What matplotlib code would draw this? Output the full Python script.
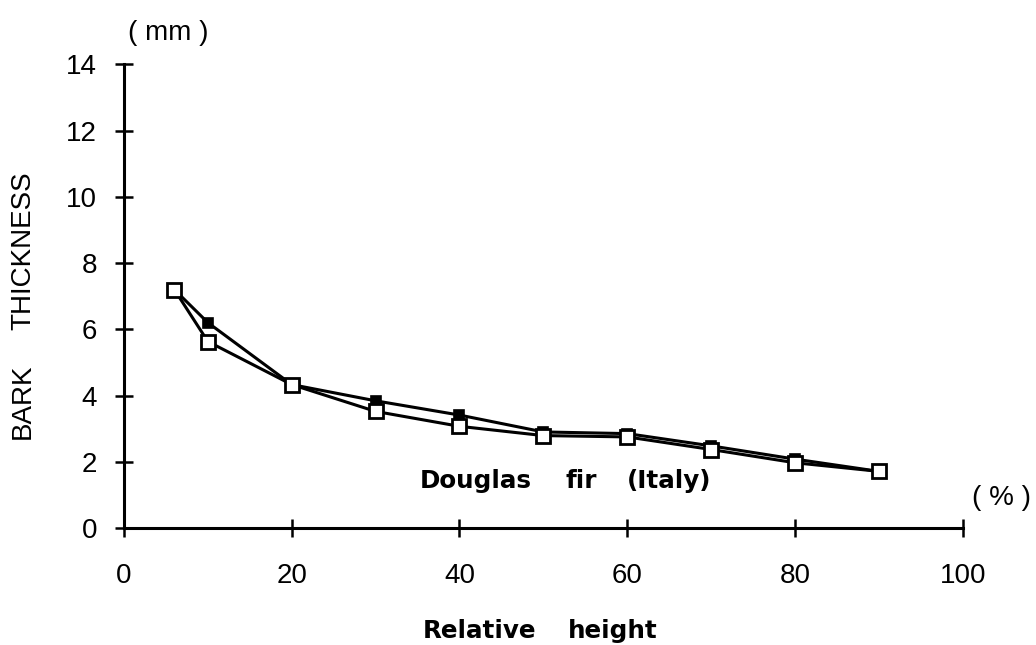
import matplotlib
matplotlib.use("Agg")
import matplotlib.pyplot as plt

# Data
rel_height = [6, 10, 20, 30, 40, 50, 60, 70, 80, 90]
bark_filled = [7.2, 6.2, 4.33, 3.84, 3.41, 2.9, 2.85, 2.48, 2.08, 1.71]
bark_open = [7.2, 5.63, 4.33, 3.52, 3.07, 2.79, 2.75, 2.37, 1.97, 1.71]
xticks = [0, 20, 40, 60, 80, 100]
yticks = [0, 2, 4, 6, 8, 10, 12, 14]

W, H = 1036, 645
fig = plt.figure(figsize=(W / 100, H / 100), dpi=100)
ax = fig.add_axes([124 / W, 1 - 528 / H, (962.7 - 124) / W, (528 - 64.3) / H])

ax.plot(rel_height, bark_filled, color="black", lw=2.2, marker="s", ms=7.5,
        mfc="black", mec="black", mew=1.2, zorder=3, clip_on=False)
ax.plot(rel_height, bark_open, color="black", lw=2.2, marker="s", ms=10,
        mfc="white", mec="black", mew=2.0, zorder=4, clip_on=False)

ax.set_xlim(0, 100)
ax.set_ylim(0, 14)
ax.set_xticks(xticks)
ax.set_yticks(yticks)
for s in ["top", "right"]:
    ax.spines[s].set_visible(False)
for s in ["left", "bottom"]:
    ax.spines[s].set_linewidth(2.2)

ax.tick_params(axis="both", direction="inout", length=13, width=1.8)
ax.tick_params(axis="x", pad=19)
ax.tick_params(axis="y", pad=13)
for lab in ax.get_xticklabels() + ax.get_yticklabels():
    lab.set_fontfamily("Liberation Sans")
    lab.set_fontsize(20)

lab_font = dict(fontfamily="Liberation Sans", fontsize=20)
fig.text(23 / W, 1 - 401 / H, "BARK", rotation=90, ha="center", va="center", **lab_font)
fig.text(23 / W, 1 - 251 / H, "THICKNESS", rotation=90, ha="center", va="center", **lab_font)
fig.text(168 / W, 1 - 33 / H, "( mm )", ha="center", va="center", **lab_font)
fig.text(1002 / W, 1 - 498 / H, "( % )", ha="center", va="center", **lab_font)

bold_font = dict(fontfamily="DejaVu Sans", fontweight="bold", fontsize=17.7)
fig.text(423 / W, 1 - 638 / H, "Relative", ha="left", va="baseline", **bold_font)
fig.text(568 / W, 1 - 638 / H, "height", ha="left", va="baseline", **bold_font)
fig.text(420 / W, 1 - 488 / H, "Douglas", ha="left", va="baseline", **bold_font)
fig.text(565 / W, 1 - 488 / H, "fir", ha="left", va="baseline", **bold_font)
fig.text(627 / W, 1 - 488 / H, "(Italy)", ha="left", va="baseline", **bold_font)

fig.savefig("out.png", dpi=100)
